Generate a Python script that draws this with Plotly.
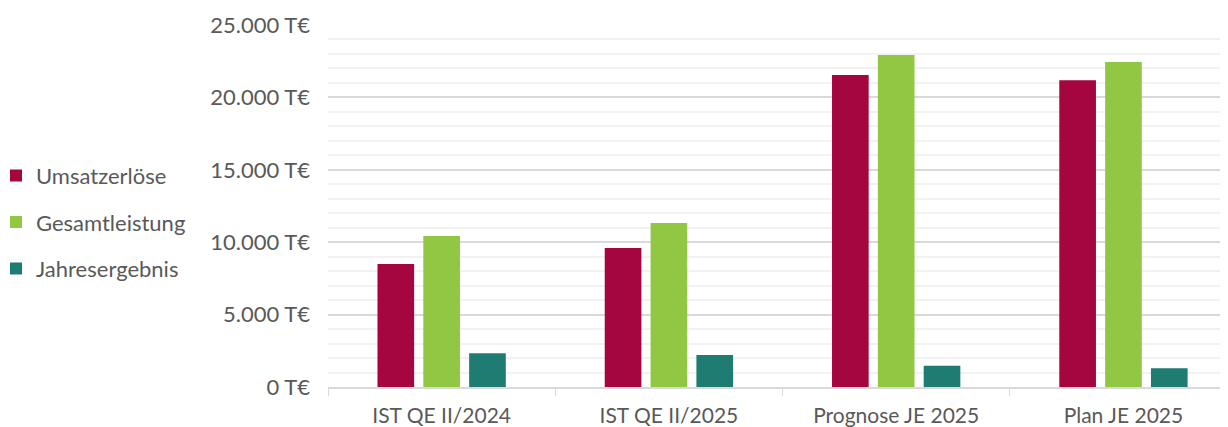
import plotly.graph_objects as go

categories = ["IST QE II/2024", "IST QE II/2025", "Prognose JE 2025", "Plan JE 2025"]
umsatzerloese = [8500, 9600, 21550, 21180]
gesamtleistung = [10430, 11330, 22930, 22440]
jahresergebnis = [2330, 2210, 1470, 1290]

series = [
    ("Umsatzerlöse", umsatzerloese, "#A5063F"),
    ("Gesamtleistung", gesamtleistung, "#92C743"),
    ("Jahresergebnis", jahresergebnis, "#1E7C72"),
]

fig = go.Figure()
for name, vals, color in series:
    fig.add_trace(go.Bar(
        x=categories, y=vals, name=name, legendgroup=name,
        marker=dict(color=color, line=dict(width=0)),
    ))

# the page body has an 8px margin, so the figure is shifted by 8px; compensate
font = "Lato, 'Open Sans', sans-serif"
fig.update_layout(
    width=1220, height=419,
    margin=dict(l=320, r=0, t=17, b=32),
    paper_bgcolor="white", plot_bgcolor="white",
    separators=",.",
    barmode="group", bargap=0.395, bargroupgap=0.2,
    font=dict(family=font, size=22, color="#595959"),
    legend=dict(
        xref="container", yref="container", x=0, y=0.489,
        xanchor="left", yanchor="middle",
        font=dict(size=22, color="#595959"),
        tracegroupgap=15, itemwidth=30, indentation=-12,
        bgcolor="rgba(0,0,0,0)",
    ),
)
fig.update_xaxes(
    range=[-0.5, 3.46],
    showline=True, linecolor="#D9D9D9", linewidth=1.5,
    ticks="outside", tickson="boundaries", ticklen=7, tickcolor="#D9D9D9",
    showgrid=False, ticklabelstandoff=9,
    tickfont=dict(size=21),
)
fig.update_yaxes(
    range=[0, 25000], dtick=5000,
    tickformat=",.0f", ticksuffix=" T€",
    showgrid=True, gridcolor="#D9D9D9", gridwidth=1.5,
    zeroline=False, ticklabelstandoff=17,
    minor=dict(dtick=1000, showgrid=True, gridcolor="#F2F2F2", gridwidth=1.5),
)

fig.write_html("out.html")
